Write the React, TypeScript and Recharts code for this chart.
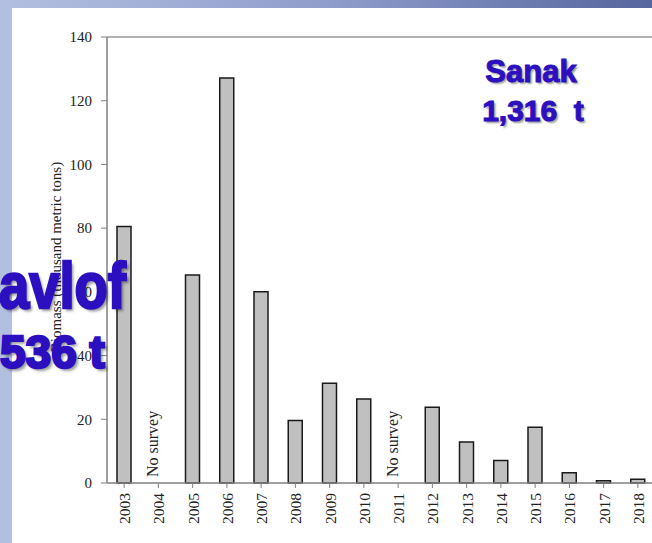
import React from 'react';
import { BarChart, Bar, XAxis, YAxis, ReferenceLine } from 'recharts';

const years = ['2003', '2004', '2005', '2006', '2007', '2008', '2009', '2010', '2011', '2012', '2013', '2014', '2015', '2016', '2017', '2018'];
const biomass: (number | null)[] = [80.5, null, 65.3, 127.1, 60.0, 19.6, 31.3, 26.4, null, 23.8, 12.9, 7.1, 17.5, 3.2, 0.7, 1.2];
const yTicks = [0, 20, 40, 60, 80, 100, 120, 140];
const noSurveyYears = ['2004', '2011'];
const yLabel = 'Biomass (thousand metric tons)';
const sanakLines = ['Sanak', '1,316  t'];
const pavlofLines = ['avlof', '536 t'];

const data = years.map((year, i) => ({ year, biomass: biomass[i] }));

const SERIF = '"Liberation Serif", "Times New Roman", serif';
const SANS = '"Liberation Sans", Arial, sans-serif';
const BLUE = '#2c0fbf';
const SHADOW = '2px 2px 2px rgba(0,0,0,0.4)';

const XTick = (props: any) => {
  const { x, y, payload } = props;
  return (
    <text
      transform={`translate(${x + 6}, ${y}) rotate(-90)`}
      textAnchor="end"
      fontFamily={SERIF}
      fontSize={15.5}
      fill="#222"
    >
      {payload.value}
    </text>
  );
};

const NoSurveyLabel = (props: any) => {
  const vb = props.viewBox || {};
  const bottom = (vb.y || 0) + (vb.height || 0);
  return (
    <text
      transform={`translate(${vb.x}, ${bottom - 6}) rotate(-90)`}
      textAnchor="start"
      fontFamily={SERIF}
      fontSize={16}
      fill="#222"
    >
      No survey
    </text>
  );
};

const YLabel = (props: any) => {
  const vb = props.viewBox || {};
  const cx = vb.x + 1;
  const cy = vb.y + vb.height / 2 - 3;
  return (
    <text
      transform={`translate(${cx}, ${cy}) rotate(-90)`}
      textAnchor="middle"
      fontFamily={SERIF}
      fontSize={15}
      fill="#222"
    >
      {yLabel}
    </text>
  );
};

export default function App() {
  return (
    <div
      style={{
        position: 'fixed',
        left: 0,
        top: 0,
        width: 652,
        height: 543,
        overflow: 'hidden',
        background: '#ffffff',
      }}
    >
      <div
        style={{
          position: 'absolute',
          left: 0,
          top: 0,
          width: 652,
          height: 8,
          background: 'linear-gradient(to right, #b3bfe0, #8f9dcc 50%, #56669e)',
        }}
      />
      <div
        style={{
          position: 'absolute',
          left: 0,
          top: 0,
          width: 12,
          height: 543,
          background: '#b3bfe0',
        }}
      />
      <div style={{ position: 'absolute', left: 0, top: 0 }}>
        <BarChart
          width={660}
          height={543}
          data={data}
          margin={{ top: 37, right: 5, bottom: 0, left: 60 }}
        >
          <XAxis
            dataKey="year"
            interval={0}
            height={60}
            tickSize={5}
            tickMargin={5}
            tick={<XTick />}
            axisLine={{ stroke: '#808080', strokeWidth: 1.5 }}
            tickLine={{ stroke: '#808080' }}
          />
          <YAxis
            width={47}
            domain={[0, 140]}
            ticks={yTicks}
            interval={0}
            tickSize={6}
            tickMargin={9}
            axisLine={{ stroke: '#808080', strokeWidth: 1.5 }}
            tickLine={{ stroke: '#808080' }}
            tick={{ fontFamily: SERIF, fontSize: 15, fill: '#222' }}
            label={<YLabel />}
          />
          <ReferenceLine y={140} stroke="#9a9a9a" strokeWidth={1.5} />
          {noSurveyYears.map((yr) => (
            <ReferenceLine key={yr} x={yr} stroke="none" label={<NoSurveyLabel />} />
          ))}
          <Bar
            dataKey="biomass"
            fill="#c0c0c0"
            stroke="#1a1a1a"
            strokeWidth={1.5}
            barSize={14}
            isAnimationActive={false}
          />
        </BarChart>
      </div>
      <div
        style={{
          position: 'absolute',
          left: 431,
          width: 200,
          top: 56,
          textAlign: 'center',
          fontFamily: SANS,
          fontWeight: 'bold',
          fontSize: 31,
          lineHeight: 1,
          color: BLUE,
          WebkitTextStroke: `1px ${BLUE}`,
          textShadow: SHADOW,
        }}
      >
        {sanakLines[0]}
      </div>
      <div
        style={{
          position: 'absolute',
          left: 433,
          width: 200,
          top: 96,
          textAlign: 'center',
          fontFamily: SANS,
          fontWeight: 'bold',
          fontSize: 30,
          lineHeight: 1,
          whiteSpace: 'pre',
          color: BLUE,
          WebkitTextStroke: `1px ${BLUE}`,
          textShadow: SHADOW,
        }}
      >
        {sanakLines[1]}
      </div>
      <div
        style={{
          position: 'absolute',
          left: -1,
          top: 254,
          fontFamily: SANS,
          fontWeight: 'bold',
          fontSize: 64,
          lineHeight: 1,
          color: BLUE,
          WebkitTextStroke: `2.5px ${BLUE}`,
          textShadow: '3px 3px 3px rgba(0,0,0,0.4)',
          transform: 'scaleX(0.85)',
          transformOrigin: 'left top',
          whiteSpace: 'pre',
        }}
      >
        {pavlofLines[0]}
      </div>
      <div
        style={{
          position: 'absolute',
          left: 0,
          top: 329,
          fontFamily: SANS,
          fontWeight: 'bold',
          fontSize: 46,
          lineHeight: 1,
          color: BLUE,
          WebkitTextStroke: `2.5px ${BLUE}`,
          textShadow: '3px 3px 3px rgba(0,0,0,0.4)',
          whiteSpace: 'pre',
        }}
      >
        {pavlofLines[1]}
      </div>
    </div>
  );
}
